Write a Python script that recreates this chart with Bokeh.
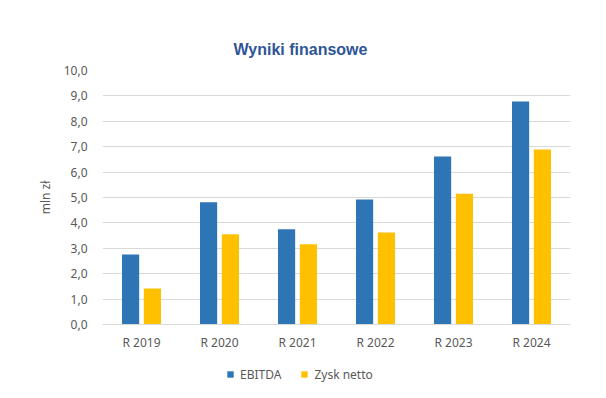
from bokeh.plotting import figure
from bokeh.layouts import column
from bokeh.models import ColumnDataSource, FixedTicker, CustomJSTickFormatter, Legend, LegendItem, Range1d
from bokeh.transform import dodge
from bokeh.embed import file_html
from bokeh.resources import INLINE

categories = ["R 2019", "R 2020", "R 2021", "R 2022", "R 2023", "R 2024"]
ebitda = [2.76, 4.81, 3.75, 4.92, 6.61, 8.78]
zysk_netto = [1.42, 3.55, 3.16, 3.62, 5.15, 6.89]
y_ticks = [0, 1, 2, 3, 4, 5, 6, 7, 8, 9, 10]
series_names = ["EBITDA", "Zysk netto"]
colors = ["#2E75B6", "#FFC000"]

src = ColumnDataSource(dict(cat=categories, ebitda=ebitda, zysk=zysk_netto))

p = figure(x_range=categories, y_range=(0, 10), width=606, height=350,
           output_backend="svg", toolbar_location=None,
           min_border_left=102, min_border_right=36, min_border_top=70, min_border_bottom=26)
p.frame_width = 468
p.frame_height = 254

p.title.text = "Wyniki finansowe"
p.title.align = "left"
p.title.offset = 131
p.title.text_font = "Liberation Sans"
p.title.text_font_size = "16px"
p.title.text_font_style = "bold"
p.title.text_color = "#2F5597"
p.title.standoff = 26

p.vbar(x=dodge("cat", -0.14, range=p.x_range), top="ebitda", width=0.22,
       source=src, color=colors[0], line_color=None)
p.vbar(x=dodge("cat", 0.14, range=p.x_range), top="zysk", width=0.22,
       source=src, color=colors[1], line_color=None)

p.outline_line_color = None
p.background_fill_color = "white"
p.border_fill_color = "white"
p.xgrid.grid_line_color = None
p.ygrid.grid_line_color = "#D9D9D9"
p.ygrid.grid_line_width = 1

p.yaxis.ticker = FixedTicker(ticks=y_ticks)
p.yaxis.formatter = CustomJSTickFormatter(code="return tick.toFixed(1).replace('.', ',');")
p.yaxis.axis_line_color = None
p.yaxis.major_tick_line_color = None
p.yaxis.minor_tick_line_color = None
p.yaxis.major_label_text_color = "#595959"
p.yaxis.major_label_text_font = "Noto Sans"
p.yaxis.major_label_text_font_size = "12px"
p.yaxis.major_label_standoff = 9
p.yaxis.axis_label = "mln zł"
p.yaxis.axis_label_text_font = "Noto Sans"
p.yaxis.axis_label_text_font_size = "12px"
p.yaxis.axis_label_text_font_style = "normal"
p.yaxis.axis_label_text_color = "#595959"
p.yaxis.axis_label_standoff = 7

p.xaxis.axis_line_color = "#D9D9D9"
p.xaxis.major_tick_line_color = None
p.xaxis.minor_tick_line_color = None
p.xaxis.major_label_text_color = "#595959"
p.xaxis.major_label_text_font = "Noto Sans"
p.xaxis.major_label_text_font_size = "12px"
p.xaxis.major_label_standoff = 3

# legend strip
lf = figure(width=606, height=48, output_backend="svg", toolbar_location=None,
            x_range=Range1d(0, 1), y_range=Range1d(0, 1),
            min_border=0, min_border_left=0, min_border_right=0,
            min_border_top=0, min_border_bottom=0)
lf.axis.visible = False
lf.grid.visible = False
lf.outline_line_color = None
lf.background_fill_color = "white"
lf.border_fill_color = "white"
hidden = ColumnDataSource(dict(x=[-10], top=[-10]))
lr1 = lf.vbar(x="x", top="top", width=0.1, source=hidden, color=colors[0], line_color=None)
lr2 = lf.vbar(x="x", top="top", width=0.1, source=hidden, color=colors[1], line_color=None)

legend = Legend(items=[LegendItem(label=series_names[0], renderers=[lr1]),
                       LegendItem(label=series_names[1], renderers=[lr2])],
                orientation="horizontal", location=(124, 17),
                glyph_width=8, glyph_height=8, spacing=19, label_standoff=6,
                label_height=20, label_text_font="Noto Sans", label_text_font_size="12px",
                label_text_color="#595959", border_line_color=None,
                background_fill_alpha=0, padding=0, margin=0)
lf.add_layout(legend, "center")

layout = column(p, lf, spacing=0)
open("out.html", "w").write(file_html(layout, INLINE))
